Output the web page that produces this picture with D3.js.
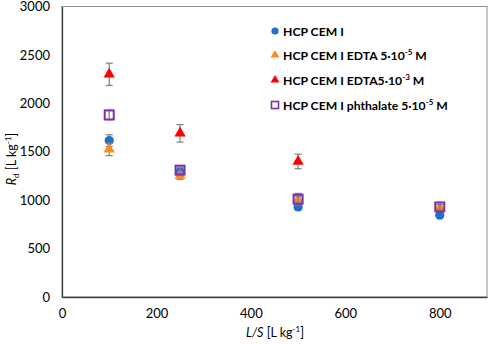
<!DOCTYPE html>
<html lang="en">
<head>
    <meta charset="UTF-8">
    <title>Rd vs L/S</title>
    <script src="https://cdn.jsdelivr.net/npm/d3@7"></script>
    <style>
        body { margin: 0; background: #fff; }
        text { font-family: Lato, "Open Sans", sans-serif; }
    </style>
</head>
<body>
<script>
    // 数据
    var ls = [100, 250, 500, 800];
    var seriesNames = ["HCP CEM I", "HCP CEM I EDTA 5·10", "HCP CEM I EDTA5·10", "HCP CEM I phthalate 5·10"];
    var seriesSup = ["", "-5", "-3", "-5"];
    var blueVals = [1615, 1290, 930, 845];
    var blueErr = [60, 40, 30, 20];
    var orangeVals = [1525, 1255, 1010, 925];
    var orangeErr = [65, 40, 60, 30];
    var redVals = [2300, 1690, 1400];
    var redErr = [115, 90, 75];
    var purpleVals = [1880, 1310, 1010, 930];
    var purpleErr = [50, 30, 30, 25];
    var xTicks = [0, 200, 400, 600, 800];
    var yTicks = [0, 500, 1000, 1500, 2000, 2500, 3000];

    var width = 491, height = 344;
    var pLeft = 62, pRight = 487, pTop = 6.5, pBottom = 297;

    var svg = d3.select("body").append("svg")
        .attr("width", width)
        .attr("height", height);

    var x = d3.scaleLinear().domain([0, 900]).range([pLeft, pRight]);
    var y = d3.scaleLinear().domain([0, 3000]).range([pBottom, pTop]);

    // 外框
    svg.append("rect")
        .attr("x", pLeft).attr("y", pTop)
        .attr("width", pRight - pLeft).attr("height", pBottom - pTop)
        .attr("fill", "none").attr("stroke", "#8c8c8c").attr("stroke-width", 1);

    // 坐标轴
    var xAxis = svg.append("g")
        .attr("transform", "translate(0," + pBottom + ")")
        .call(d3.axisBottom(x).tickValues(xTicks).tickSize(0).tickPadding(12));
    xAxis.select(".domain").attr("stroke", "#404040").attr("stroke-width", 1.3);
    xAxis.selectAll("text").attr("font-size", 13).attr("fill", "#000")
        .style("font-family", "Lato, 'Open Sans', sans-serif");

    var yAxis = svg.append("g")
        .attr("transform", "translate(" + pLeft + ",0)")
        .call(d3.axisLeft(y).tickValues(yTicks).tickFormat(d3.format("d")).tickSize(0).tickPadding(12));
    yAxis.select(".domain").attr("stroke", "#404040").attr("stroke-width", 1.3);
    yAxis.selectAll("text").attr("font-size", 13).attr("fill", "#000")
        .style("font-family", "Lato, 'Open Sans', sans-serif");

    // 轴标题
    var xt = svg.append("text")
        .attr("x", 275).attr("y", 337)
        .attr("text-anchor", "middle").attr("font-size", 12.5);
    xt.append("tspan").attr("font-style", "italic").text("L/S");
    xt.append("tspan").text(" [L kg");
    xt.append("tspan").attr("font-size", 8).attr("dy", -5).text("-1");
    xt.append("tspan").attr("dy", 5).text("]");

    var yt = svg.append("text")
        .attr("transform", "translate(16,159) rotate(-90)")
        .attr("text-anchor", "middle").attr("font-size", 12.5);
    yt.append("tspan").attr("font-style", "italic").text("R");
    yt.append("tspan").attr("font-size", 8).attr("dy", 3).text("d");
    yt.append("tspan").attr("dy", -3).text(" [L kg");
    yt.append("tspan").attr("font-size", 8).attr("dy", -5).text("-1");
    yt.append("tspan").attr("dy", 5).text("]");

    function errorBars(vals, errs) {
        var g = svg.append("g").attr("stroke", "#7f7f7f").attr("stroke-width", 1.2);
        vals.forEach(function (v, i) {
            var cx = x(ls[i]);
            g.append("line").attr("x1", cx).attr("x2", cx)
                .attr("y1", y(v - errs[i])).attr("y2", y(v + errs[i]));
            g.append("line").attr("x1", cx - 3.5).attr("x2", cx + 3.5)
                .attr("y1", y(v - errs[i])).attr("y2", y(v - errs[i]));
            g.append("line").attr("x1", cx - 3.5).attr("x2", cx + 3.5)
                .attr("y1", y(v + errs[i])).attr("y2", y(v + errs[i]));
        });
    }

    var tri = d3.symbol().type(d3.symbolTriangle).size(55);

    // 蓝色圆点
    errorBars(blueVals, blueErr);
    svg.append("g").selectAll("circle").data(blueVals).enter().append("circle")
        .attr("cx", function (d, i) { return x(ls[i]); })
        .attr("cy", function (d) { return y(d); })
        .attr("r", 4.6).attr("fill", "#1c6fcc");

    // 橙色三角
    errorBars(orangeVals, orangeErr);
    svg.append("g").selectAll("path").data(orangeVals).enter().append("path")
        .attr("d", tri)
        .attr("transform", function (d, i) { return "translate(" + x(ls[i]) + "," + y(d) + ")"; })
        .attr("fill", "#ff8a22");

    // 红色三角
    errorBars(redVals, redErr);
    svg.append("g").selectAll("path").data(redVals).enter().append("path")
        .attr("d", tri)
        .attr("transform", function (d, i) { return "translate(" + x(ls[i]) + "," + y(d) + ")"; })
        .attr("fill", "#ff0000");

    // 紫色空心方块
    errorBars(purpleVals, purpleErr);
    svg.append("g").selectAll("rect").data(purpleVals).enter().append("rect")
        .attr("x", function (d, i) { return x(ls[i]) - 4.5; })
        .attr("y", function (d) { return y(d) - 4.5; })
        .attr("width", 9).attr("height", 9)
        .attr("fill", "none").attr("stroke", "#7b2fb0").attr("stroke-width", 2);

    // 图例
    var legY = [31, 55, 80, 105];
    var lx = 275;
    var leg = svg.append("g");
    leg.append("circle").attr("cx", lx).attr("cy", legY[0]).attr("r", 3.6).attr("fill", "#1c6fcc");
    leg.append("path").attr("d", d3.symbol().type(d3.symbolTriangle).size(34))
        .attr("transform", "translate(" + lx + "," + legY[1] + ")").attr("fill", "#ff8a22");
    leg.append("path").attr("d", d3.symbol().type(d3.symbolTriangle).size(34))
        .attr("transform", "translate(" + lx + "," + legY[2] + ")").attr("fill", "#ff0000");
    leg.append("rect").attr("x", lx - 3.5).attr("y", legY[3] - 3.5).attr("width", 7).attr("height", 7)
        .attr("fill", "none").attr("stroke", "#7b2fb0").attr("stroke-width", 1.6);

    seriesNames.forEach(function (name, i) {
        var t = leg.append("text").attr("x", 283).attr("y", legY[i] + 4.5)
            .attr("font-size", 12.2).attr("font-weight", "bold").attr("fill", "#000");
        t.append("tspan").text(name);
        if (seriesSup[i]) {
            t.append("tspan").attr("font-size", 8).attr("dy", -5).text(seriesSup[i]);
            t.append("tspan").attr("dy", 5).text(" M");
        }
    });
</script>
</body>
</html>
